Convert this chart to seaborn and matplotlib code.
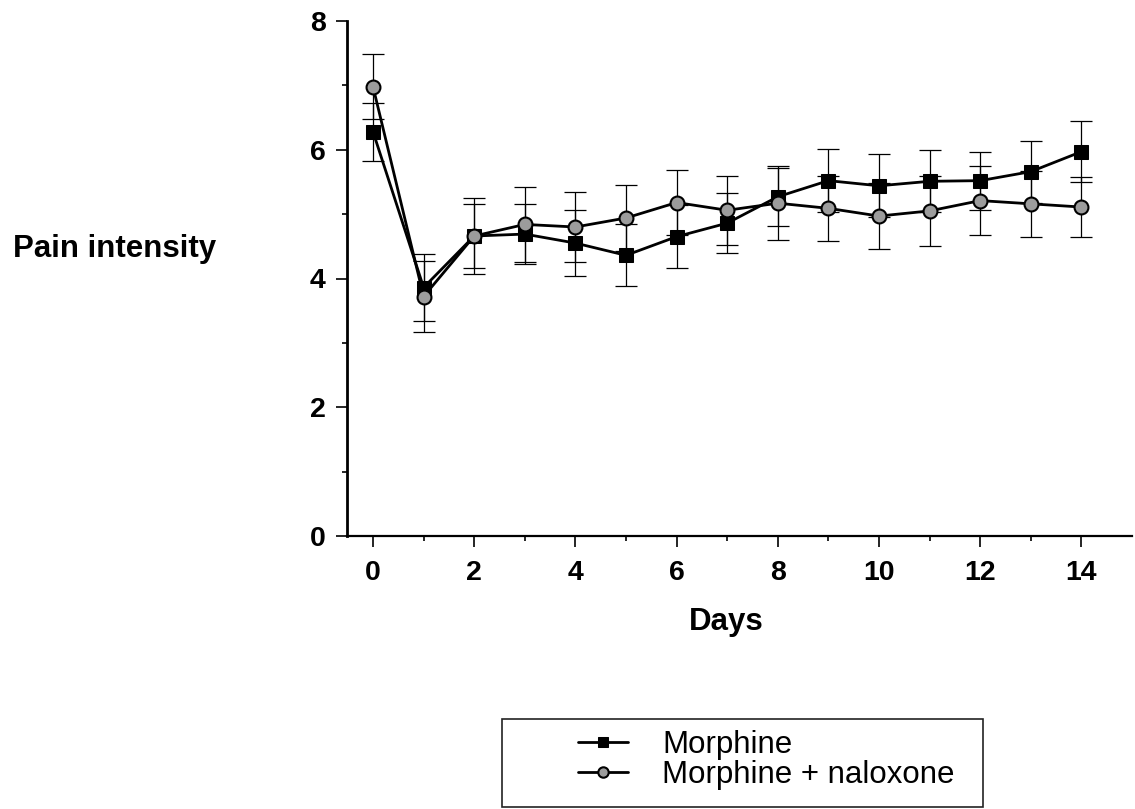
import numpy as np
import pandas as pd
import matplotlib
matplotlib.use("Agg")
import matplotlib.pyplot as plt
from matplotlib.patches import Rectangle
import seaborn as sns

# ---- data ----
days = list(range(15))
morphine = [6.28, 3.86, 4.66, 4.69, 4.55, 4.36, 4.65, 4.86, 5.27, 5.52, 5.44, 5.51, 5.52, 5.66, 5.97]
morphine_err = [0.45, 0.52, 0.49, 0.47, 0.51, 0.48, 0.49, 0.47, 0.45, 0.49, 0.49, 0.48, 0.45, 0.48, 0.47]
naloxone = [6.98, 3.72, 4.66, 4.84, 4.80, 4.94, 5.18, 5.06, 5.17, 5.09, 4.97, 5.05, 5.21, 5.16, 5.11]
naloxone_err = [0.51, 0.55, 0.59, 0.58, 0.54, 0.51, 0.51, 0.54, 0.57, 0.51, 0.51, 0.54, 0.54, 0.51, 0.46]
series_names = ["Morphine", "Morphine + naloxone"]
x_major = [0, 2, 4, 6, 8, 10, 12, 14]
y_major = [0, 2, 4, 6, 8]

sns.set_theme(style="ticks")
plt.rcParams['font.family'] = ['Liberation Sans', 'DejaVu Sans']
plt.rcParams['text.color'] = 'black'
plt.rcParams['xtick.color'] = 'black'
plt.rcParams['ytick.color'] = 'black'
plt.rcParams['xtick.labelcolor'] = 'black'
plt.rcParams['ytick.labelcolor'] = 'black'

W, H = 1135, 809
fig = plt.figure(figsize=(W / 100, H / 100), dpi=100)
ax = fig.add_axes([346.7 / W, 1 - 536 / H, (1132 - 346.7) / W, (536 - 21) / H])

df_m = pd.DataFrame({"day": days, "value": morphine})
df_n = pd.DataFrame({"day": days, "value": naloxone})

# error bars
ax.errorbar(days, morphine, yerr=morphine_err, fmt='none', ecolor='black',
            elinewidth=0.9, capsize=8, capthick=0.9, zorder=1)
ax.errorbar(days, naloxone, yerr=naloxone_err, fmt='none', ecolor='black',
            elinewidth=0.9, capsize=8, capthick=0.9, zorder=1)

sns.lineplot(data=df_m, x="day", y="value", ax=ax, color="black", marker="s",
             markersize=10, markeredgecolor="black", markerfacecolor="black",
             linewidth=2.0, label=series_names[0], zorder=3)
sns.lineplot(data=df_n, x="day", y="value", ax=ax, color="black", marker="o",
             markersize=10, markeredgecolor="black", markeredgewidth=1.5,
             markerfacecolor="#9c9c9c", linewidth=2.0, label=series_names[1], zorder=3)

ax.set_xlim(-0.52, 15.0)
ax.set_ylim(0, 8)
ax.set_xticks(x_major)
ax.set_xticks([1, 3, 5, 7, 9, 11, 13], minor=True)
ax.set_yticks(y_major)
ax.set_yticks([1, 3, 5, 7], minor=True)
ax.set_xticklabels([str(v) for v in x_major], fontsize=20.5, fontweight='bold')
ax.set_yticklabels([str(v) for v in y_major], fontsize=20.5, fontweight='bold')
ax.tick_params(axis='both', which='major', length=8, width=1.2, color='black', direction='out')
ax.tick_params(axis='both', which='minor', length=3.8, width=1.2, color='black', direction='out')
ax.tick_params(axis='x', which='major', pad=9)
ax.tick_params(axis='y', which='major', pad=7)
ax.set_xlabel("")
ax.set_ylabel("")
sns.despine(ax=ax)
ax.spines['left'].set_linewidth(2.0)
ax.spines['bottom'].set_linewidth(1.6)
ax.spines['left'].set_color('black')
ax.spines['bottom'].set_color('black')
ax.set_facecolor('white')

fig.text(726.5 / W, 1 - 630 / H, "Days", fontsize=22.5, fontweight='bold',
         ha='center', va='baseline', color='black')
fig.text(13 / W, 1 - 257 / H, "Pain intensity", fontsize=22.5, fontweight='bold',
         ha='left', va='baseline', color='black')

handles, labels = ax.get_legend_handles_labels()
if ax.get_legend():
    ax.get_legend().remove()
leg = fig.legend(handles, labels, loc='upper left',
                 bbox_to_anchor=(578 / W, 1 - 730 / H), borderaxespad=0, borderpad=0,
                 frameon=False, fontsize=22.5, handlelength=1.6, handletextpad=1.1,
                 labelspacing=0.0, markerscale=0.75)
for t in leg.get_texts():
    t.set_color('black')
fig.add_artist(Rectangle((502 / W, 1 - 807 / H), (983 - 502) / W, (807 - 719) / H,
                         transform=fig.transFigure, fill=False, edgecolor='#222222',
                         linewidth=1.2))

fig.savefig("out.png", dpi=100, facecolor='white')
